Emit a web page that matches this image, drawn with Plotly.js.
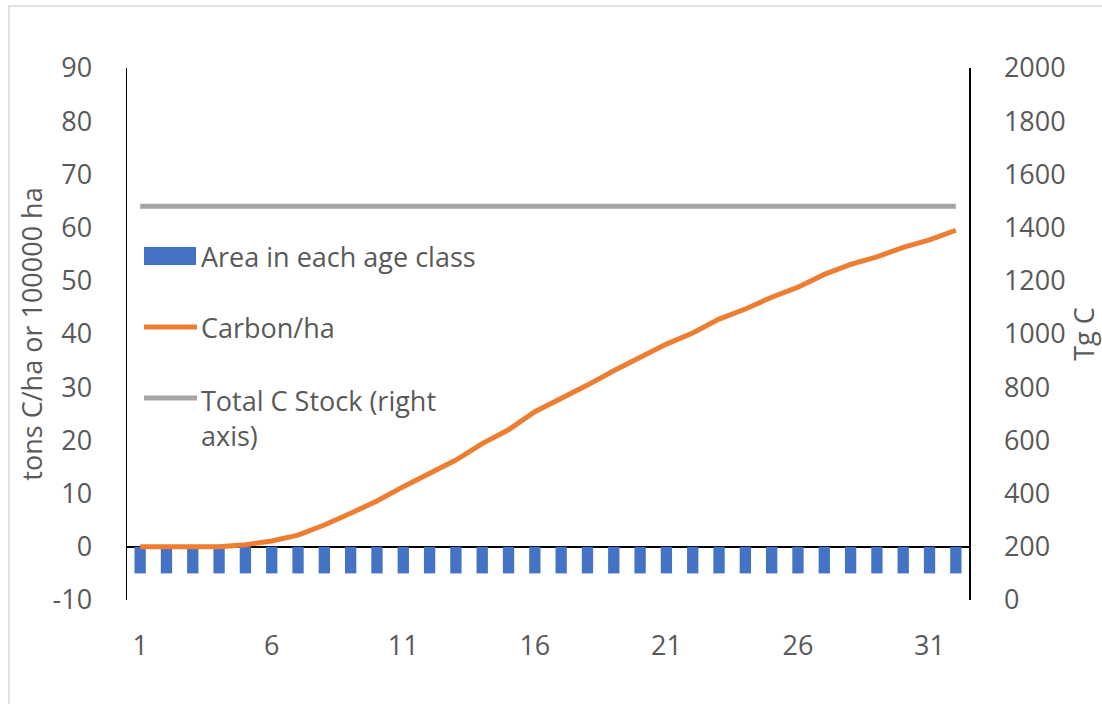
<!DOCTYPE html>
<html>
<head>
<meta charset="utf-8">
<script src="https://cdn.plot.ly/plotly-3.0.1.min.js"></script>
<style>
  html, body { margin: 0; padding: 0; background: #fff; }
  #chart { width: 1102px; height: 704px; }
</style>
</head>
<body>
<div id="chart"></div>
<script>
// Age classes
const ageClasses = [1, 2, 3, 4, 5, 6, 7, 8, 9, 10, 11, 12, 13, 14, 15, 16,
                    17, 18, 19, 20, 21, 22, 23, 24, 25, 26, 27, 28, 29, 30, 31, 32];

// Area in each age class (100000 ha)
const areaPerClass = [-5, -5, -5, -5, -5, -5, -5, -5, -5, -5, -5, -5, -5, -5, -5, -5,
                      -5, -5, -5, -5, -5, -5, -5, -5, -5, -5, -5, -5, -5, -5, -5, -5];

// Carbon per hectare (tons C/ha)
const carbonPerHa = [0, 0, 0, 0, 0.4, 1.1, 2.2, 4.1, 6.3, 8.6, 11.3, 13.7, 16.3, 19.4, 22.0, 25.4,
                     27.8, 30.4, 33.1, 35.7, 38.1, 40.2, 42.8, 44.7, 46.9, 48.8, 51.2, 53.1, 54.5, 56.3, 57.7, 59.5];

// Total carbon stock (Tg C, right axis)
const totalStock = [1480, 1480, 1480, 1480, 1480, 1480, 1480, 1480, 1480, 1480, 1480, 1480, 1480, 1480, 1480, 1480,
                    1480, 1480, 1480, 1480, 1480, 1480, 1480, 1480, 1480, 1480, 1480, 1480, 1480, 1480, 1480, 1480];

// Series names
const seriesNames = ["Area in each age class", "Carbon/ha", "Total C Stock (right<br>axis)"];

// Axis tick labels
const xTickVals = [1, 6, 11, 16, 21, 26, 31];
const xTickText = ["1", "6", "11", "16", "21", "26", "31"];
const leftTickVals = [-10, 0, 10, 20, 30, 40, 50, 60, 70, 80, 90];
const leftTickText = ["-10", "0", "10", "20", "30", "40", "50", "60", "70", "80", "90"];
const rightTickVals = [0, 200, 400, 600, 800, 1000, 1200, 1400, 1600, 1800, 2000];
const rightTickText = ["0", "200", "400", "600", "800", "1000", "1200", "1400", "1600", "1800", "2000"];

// Colours
const BLUE = "#4472C4", ORANGE = "#ED7D31", GREY = "#A5A5A5", TEXT = "#595959";
const FONT = "'Open Sans', 'Noto Sans', sans-serif";

// Plot area geometry (pixels)
const W = 1102, H = 704;
const M = { l: 127, r: 133, t: 68, b: 104 };
const PW = W - M.l - M.r, PH = H - M.t - M.b;
const px = x => (x - M.l) / PW;          // page x -> paper x
const py = y => (H - M.b - y) / PH;      // page y -> paper y

const traces = [
  {
    type: "bar", x: ageClasses, y: areaPerClass, name: seriesNames[0],
    marker: { color: BLUE }, yaxis: "y", hoverinfo: "x+y"
  },
  {
    type: "scatter", mode: "lines", x: ageClasses, y: carbonPerHa, name: seriesNames[1],
    line: { color: ORANGE, width: 5 }, yaxis: "y"
  },
  {
    type: "scatter", mode: "lines", x: ageClasses, y: totalStock, name: seriesNames[2],
    line: { color: GREY, width: 5 }, yaxis: "y2"
  }
];

// Legend drawn inside the plot area: swatches + labels
const legendShapes = [
  { type: "rect", xref: "paper", yref: "paper", x0: px(144), x1: px(196), y0: py(247), y1: py(265),
    fillcolor: BLUE, line: { width: 0 } },
  { type: "line", xref: "paper", yref: "paper", x0: px(144), x1: px(197), y0: py(327), y1: py(327),
    line: { color: ORANGE, width: 5 } },
  { type: "line", xref: "paper", yref: "paper", x0: px(144), x1: px(197), y0: py(398), y1: py(398),
    line: { color: GREY, width: 5 } }
];
const legendLabelY = [256, 327, 418];
const legendAnnotations = seriesNames.map((name, i) => ({
  xref: "paper", yref: "paper", x: px(199), y: py(legendLabelY[i]),
  xanchor: "left", yanchor: "middle", align: "left", showarrow: false,
  text: name, font: { family: FONT, size: 27, color: TEXT }
}));

// Light chart-area border
const borderShape = {
  type: "rect", xref: "paper", yref: "paper", layer: "below",
  x0: px(9), x1: px(1200), y0: py(800), y1: py(6),
  line: { color: "#d9d9d9", width: 1.5 }, fillcolor: "rgba(0,0,0,0)"
};

const tickFont = { family: FONT, size: 27, color: TEXT };

const layout = {
  width: W, height: H, autosize: false,
  margin: M,
  paper_bgcolor: "#ffffff", plot_bgcolor: "#ffffff",
  showlegend: false,
  bargap: 0.57,
  font: { family: FONT, color: TEXT },
  xaxis: {
    range: [0.5, 32.5], tickmode: "array", tickvals: xTickVals, ticktext: xTickText,
    tickfont: tickFont, ticks: "outside", ticklen: 22, tickcolor: "rgba(0,0,0,0)",
    showline: false, showgrid: false, zeroline: false, fixedrange: true
  },
  yaxis: {
    range: [-10, 90], tickmode: "array", tickvals: leftTickVals, ticktext: leftTickText,
    tickfont: tickFont, ticks: "outside", ticklen: 28, tickcolor: "rgba(0,0,0,0)",
    showline: true, linecolor: "#000000", linewidth: 1.5,
    showgrid: false, zeroline: true, zerolinecolor: "#000000", zerolinewidth: 1.5,
    title: { text: "tons C/ha or 100000 ha", font: { family: FONT, size: 27, color: TEXT }, standoff: 2 },
    fixedrange: true
  },
  yaxis2: {
    overlaying: "y", side: "right", range: [0, 2000],
    tickmode: "array", tickvals: rightTickVals, ticktext: rightTickText,
    tickfont: tickFont, ticks: "outside", ticklen: 28, tickcolor: "rgba(0,0,0,0)",
    showline: true, linecolor: "#000000", linewidth: 1.5,
    showgrid: false, zeroline: false,
    title: { text: "Tg C", font: { family: FONT, size: 27, color: TEXT }, standoff: 6 },
    fixedrange: true
  },
  shapes: [borderShape].concat(legendShapes),
  annotations: legendAnnotations
};

Plotly.newPlot("chart", traces, layout, { displayModeBar: false, staticPlot: true });
</script>
</body>
</html>
